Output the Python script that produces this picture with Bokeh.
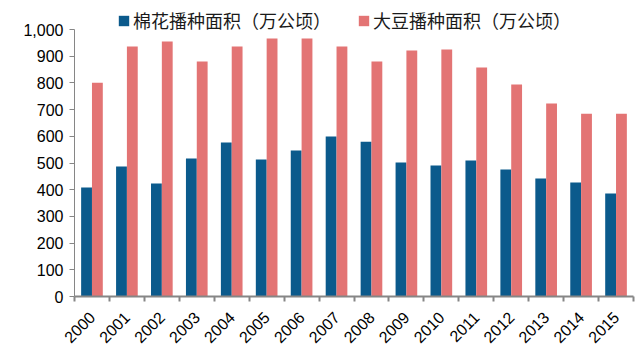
import math
from bokeh.plotting import figure
from bokeh.models import ColumnDataSource, FixedTicker, NumeralTickFormatter, Legend, LegendItem, Range1d
from bokeh.transform import dodge
from bokeh.embed import file_html
from bokeh.resources import INLINE

years = ["2000", "2001", "2002", "2003", "2004", "2005", "2006", "2007",
         "2008", "2009", "2010", "2011", "2012", "2013", "2014", "2015"]
cotton = [408, 487, 423, 517, 577, 513, 547, 599, 580, 502, 491, 509, 476, 442, 427, 386]
soybean = [801, 936, 955, 880, 936, 966, 966, 936, 880, 921, 925, 858, 794, 723, 685, 685]
cotton_label = "棉花播种面积（万公顷）"
soy_label = "大豆播种面积（万公顷）"
y_ticks = [0, 100, 200, 300, 400, 500, 600, 700, 800, 900, 1000]

idx = list(range(len(years)))
src = ColumnDataSource(dict(x=idx, cotton=cotton, soybean=soybean))

p = figure(width=635, height=351, output_backend="svg", toolbar_location=None,
           x_range=Range1d(-0.5, len(years) - 0.5), y_range=Range1d(0, 1105))
p.min_border_left = 74
p.min_border_right = 2
p.min_border_bottom = 55
p.min_border_top = 1
p.outline_line_color = None
p.xgrid.grid_line_color = None
p.ygrid.grid_line_color = None

BLUE = "#0B5A8C"
RED = "#E37474"
r1 = p.vbar(x=dodge("x", -0.155, range=p.x_range), top="cotton", width=0.31, source=src,
            fill_color=BLUE, line_color=None)
r2 = p.vbar(x=dodge("x", 0.155, range=p.x_range), top="soybean", width=0.31, source=src,
            fill_color=RED, line_color=None)

AX = "#868686"
xa = p.xaxis[0]
xa.ticker = FixedTicker(ticks=idx, minor_ticks=[i - 0.5 for i in range(len(years) + 1)])
xa.major_label_overrides = {i: y for i, y in zip(idx, years)}
xa.major_label_orientation = math.pi / 4
xa.major_tick_out = 0
xa.major_tick_in = 0
xa.minor_tick_out = 5
xa.minor_tick_in = 0
xa.minor_tick_line_color = AX
xa.axis_line_color = AX
xa.axis_line_width = 2
xa.minor_tick_line_width = 2
xa.major_label_text_font = "Liberation Sans"
xa.major_label_text_font_size = "16px"
xa.major_label_text_color = "#000000"
xa.major_label_standoff = 13

ya = p.yaxis[0]
ya.ticker = FixedTicker(ticks=y_ticks)
ya.bounds = (0, 1000)
ya.formatter = NumeralTickFormatter(format="0,0")
ya.major_tick_out = 5
ya.major_tick_in = 0
ya.minor_tick_out = 0
ya.minor_tick_in = 0
ya.major_tick_line_color = AX
ya.axis_line_color = AX
ya.axis_line_width = 1
ya.major_label_text_font = "Liberation Sans"
ya.major_label_text_font_size = "16px"
ya.major_label_text_color = "#000000"
ya.major_label_standoff = 6

legend = Legend(items=[LegendItem(label=cotton_label, renderers=[r1]),
                       LegendItem(label=soy_label, renderers=[r2])],
                orientation="horizontal", location=(43, 263))
legend.label_text_font = "Noto Sans CJK SC"
legend.label_text_font_size = "18px"
legend.label_text_color = "#1a1a1a"
legend.glyph_width = 13
legend.glyph_height = 13
legend.spacing = 26
legend.label_standoff = 3
legend.padding = 0
legend.margin = 0
legend.border_line_color = None
legend.background_fill_alpha = 0
p.add_layout(legend)

open("out.html", "w").write(file_html(p, INLINE))
